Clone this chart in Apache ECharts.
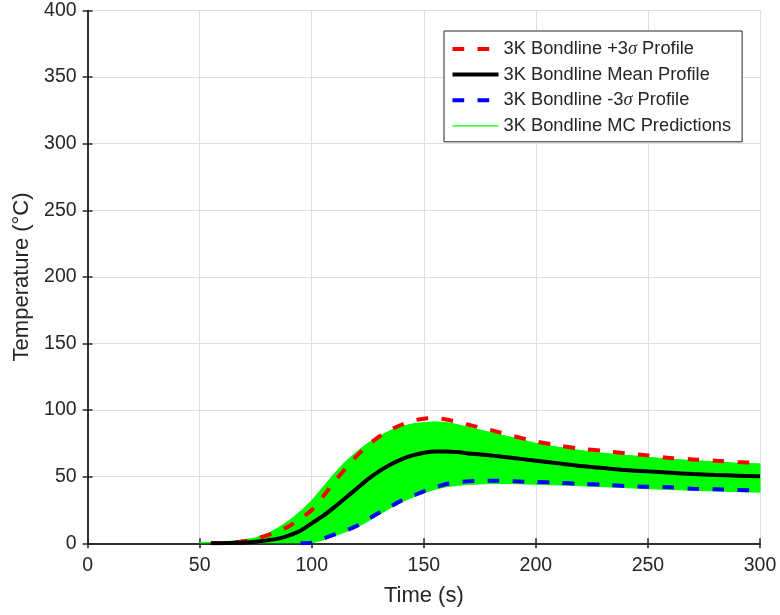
<!DOCTYPE html>
<html>
<head>
<meta charset="utf-8">
<script src="https://cdn.jsdelivr.net/npm/echarts@6/dist/echarts.min.js"></script>
<style>
  html, body { margin: 0; padding: 0; background: #fff; }
  #chart { width: 780px; height: 615px; }
</style>
</head>
<body>
<div id="chart"></div>
<script>
// Time samples (s) shared by every profile
const times = [50, 55, 60, 65, 70, 75, 80, 85, 90, 95, 100, 105, 110, 115, 120, 125, 130, 135, 140, 145, 150, 155, 160, 165, 170, 175, 180, 190, 200, 210, 220, 230, 240, 250, 260, 270, 280, 290, 300];

// Bondline temperature profiles (°C)
const plus3Sigma = [null, 0, 0.2, 0.7, 1.5, 3.5, 6, 9, 13, 18.5, 25, 35, 46, 56, 65.5, 73.5, 80, 85, 89, 92, 93.5, 94, 93, 91, 89, 87, 85, 80.5, 76.5, 73.5, 71, 69.5, 67.5, 66, 64, 63, 62, 61, 60.5];
const meanProfile = [null, 0, 0.1, 0.3, 0.6, 1.2, 2.2, 3.5, 6, 9.5, 15, 20.5, 27, 34, 41, 48, 54, 59, 63, 66, 68, 69, 69, 68.5, 67.5, 66.8, 66, 64, 62, 60, 58, 56.5, 55, 54, 53, 52, 51.3, 50.8, 50.3];
const minus3Sigma = [null, null, null, null, null, null, null, null, null, 0, 0.5, 3.5, 6.5, 9.5, 13, 18, 23, 27.5, 32, 35.5, 39, 42, 44.5, 45.8, 46.5, 47, 47, 46.5, 46, 45.5, 44.5, 44, 43, 42.5, 42, 41, 40.5, 40, 39.5];

// Envelope of the Monte Carlo predictions
const mcLower = [0, 0, 0, 0, 0, 0, 0, 0, 0, 0, 0.3, 2.5, 5.5, 8.5, 12, 16.5, 21.5, 26.5, 31, 34.5, 38, 40.5, 42.5, 43.5, 44.2, 44.6, 44.8, 44.8, 44.3, 43.8, 43.2, 42.5, 41.8, 41, 40.4, 39.8, 39.3, 38.8, 38.4];
const mcUpper = [0.3, 0.6, 1, 1.6, 2.6, 4, 7, 11.5, 17, 24, 32, 42, 52, 61, 68.5, 75, 80, 84.5, 87.5, 89.5, 90.5, 91, 90.5, 89, 87, 85, 83, 79, 75, 72, 69.5, 67.5, 66, 64.5, 63, 62, 61, 60, 59.5];

// Axis ticks
const xTicks = { min: 0, max: 300, interval: 50 };
const yTicks = { min: 0, max: 400, interval: 50 };

const names = {
  plus: '3K Bondline +3σ Profile',
  mean: '3K Bondline Mean Profile',
  minus: '3K Bondline -3σ Profile',
  mc: '3K Bondline MC Predictions'
};

const pair = vals => times.map((t, i) => [t, vals[i]]);

const FONT = '"Liberation Sans", Arial, Helvetica, sans-serif';
const INK = '#262626';
const GREEN = '#00ff00';
const DASH = [11.7, 13.3];

const chart = echarts.init(document.getElementById('chart'), null, { renderer: 'canvas' });

const boxAxis = {
  axisLine: { show: true, lineStyle: { color: INK, width: 1.5 } },
  axisTick: { show: true, inside: true, length: 5, lineStyle: { color: INK, width: 1.5 } },
  axisLabel: { show: false },
  splitLine: { show: false }
};

// Filled region between the lower and upper Monte Carlo envelopes
function renderBand(params, api) {
  if (params.dataIndex > 0) return null;
  const top = times.map((t, i) => api.coord([t, mcUpper[i]]));
  const bottom = times.map((t, i) => api.coord([t, mcLower[i]])).reverse();
  return {
    type: 'polygon',
    shape: { points: top.concat(bottom) },
    style: { fill: GREEN, stroke: GREEN, lineWidth: 1 },
    silent: true
  };
}

chart.setOption({
  animation: false,
  backgroundColor: '#fff',
  grid: { left: 87.6, right: 20, top: 10.5, bottom: 71.7, containLabel: false },
  xAxis: [
    {
      type: 'value', min: xTicks.min, max: xTicks.max, interval: xTicks.interval,
      position: 'bottom',
      name: 'Time (s)', nameLocation: 'middle', nameGap: 42,
      nameTextStyle: { fontFamily: FONT, fontSize: 22, color: INK },
      axisLine: { show: true, onZero: false, lineStyle: { color: INK, width: 1.5 } },
      axisTick: { show: true, inside: true, length: 5, lineStyle: { color: INK, width: 1.5 } },
      axisLabel: { fontFamily: FONT, fontSize: 19.5, color: INK, margin: 12 },
      splitLine: { show: true, lineStyle: { color: '#dedede', width: 1 } }
    },
    Object.assign({ type: 'value', min: xTicks.min, max: xTicks.max, interval: xTicks.interval, position: 'top' }, boxAxis)
  ],
  yAxis: [
    {
      type: 'value', min: yTicks.min, max: yTicks.max, interval: yTicks.interval,
      position: 'left',
      name: 'Temperature (°C)', nameLocation: 'middle', nameGap: 49,
      nameTextStyle: { fontFamily: FONT, fontSize: 22, color: INK },
      axisLine: { show: true, onZero: false, lineStyle: { color: INK, width: 1.5 } },
      axisTick: { show: true, inside: true, length: 5, lineStyle: { color: INK, width: 1.5 } },
      axisLabel: { fontFamily: FONT, fontSize: 19.5, color: INK, margin: 11 },
      splitLine: { show: true, lineStyle: { color: '#dedede', width: 1 } }
    },
    Object.assign({ type: 'value', min: yTicks.min, max: yTicks.max, interval: yTicks.interval, position: 'right' }, boxAxis)
  ],
  legend: {
    orient: 'vertical',
    left: 444, top: 31,
    padding: [8, 11, 6, 6.5],
    itemGap: 5.6,
    itemWidth: 46,
    itemHeight: 14,
    backgroundColor: '#fff',
    borderColor: INK,
    borderWidth: 1,
    borderRadius: 0,
    selectedMode: false,
    itemStyle: { opacity: 0 },
    data: [
      { name: names.plus, lineStyle: { width: 4, color: '#ff0000', type: DASH } },
      { name: names.mean, lineStyle: { width: 4, color: '#000000' } },
      { name: names.minus, lineStyle: { width: 4, color: '#0000ff', type: DASH } },
      { name: names.mc, lineStyle: { width: 1.2, color: GREEN } }
    ],
    formatter: n => n.replace('σ', '{s|σ}'),
    textStyle: {
      fontFamily: FONT, fontSize: 18.3, color: INK, lineHeight: 20,
      rich: { s: { fontFamily: '"Liberation Serif", "DejaVu Serif", serif', fontStyle: 'italic', fontSize: 18.3, color: INK, lineHeight: 20 } }
    }
  },
  series: [
    {
      name: 'mcBand', type: 'custom', renderItem: renderBand,
      data: [0], silent: true, clip: true, z: 1
    },
    {
      name: names.mc, type: 'line', data: pair(mcUpper),
      showSymbol: false, symbol: 'none', smooth: 0.3, silent: true,
      lineStyle: { color: GREEN, width: 1 },
      itemStyle: { color: GREEN }, z: 1
    },
    {
      name: names.plus, type: 'line', data: pair(plus3Sigma),
      showSymbol: false, symbol: 'none', smooth: 0.3, silent: true,
      lineStyle: { color: '#ff0000', width: 4, type: DASH },
      itemStyle: { color: '#ff0000' }, z: 3
    },
    {
      name: names.mean, type: 'line', data: pair(meanProfile),
      showSymbol: false, symbol: 'none', smooth: 0.3, silent: true,
      lineStyle: { color: '#000000', width: 4 },
      itemStyle: { color: '#000000' }, z: 4
    },
    {
      name: names.minus, type: 'line', data: pair(minus3Sigma),
      showSymbol: false, symbol: 'none', smooth: 0.3, silent: true,
      lineStyle: { color: '#0000ff', width: 4, type: DASH },
      itemStyle: { color: '#0000ff' }, z: 3
    }
  ]
});
</script>
</body>
</html>
